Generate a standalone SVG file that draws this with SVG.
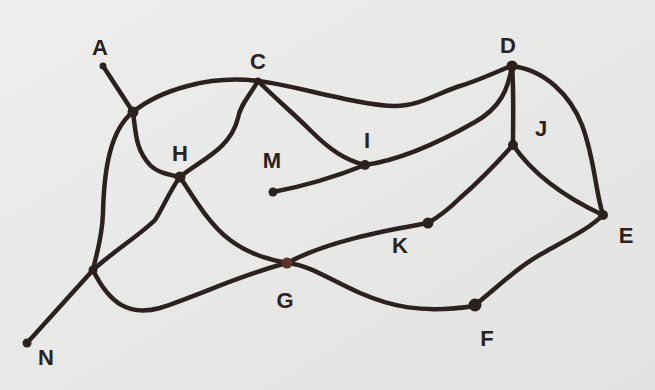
<svg xmlns="http://www.w3.org/2000/svg" width="655" height="390" viewBox="0 0 655 390">
<defs>
<linearGradient id="bg" x1="0" y1="0" x2="1" y2="1">
<stop offset="0" stop-color="#eeeeec"/>
<stop offset="1" stop-color="#e2e2e0"/>
</linearGradient>
<style>
.e{fill:none;stroke:#2b221f;stroke-width:4.5;stroke-linecap:round;stroke-linejoin:round}
.d{fill:#2b221f}
.t{font-family:"Liberation Sans","DejaVu Sans",sans-serif;font-weight:bold;font-size:22px;fill:#2b221f;text-anchor:middle;dominant-baseline:central}
</style>
</defs>
<rect width="655" height="390" fill="url(#bg)"/>
<g id="connectors">
<path class="e" d="M103,66 L133,112"/>
<path class="e" d="M133,112 C160,90 210,75 258,81"/>
<path class="e" d="M258,81 C290,84 360,106 395,106 C420,106 440,92 460,86 C480,80 500,70 512,66"/>
<path class="e" d="M133,112 C110,130 104,170 103,213 C102,240 96,255 93,270"/>
<path class="e" d="M133,112 C136,135 136,150 150,165 C158,173 170,175 180,177"/>
<path class="e" d="M258,81 C250,95 240,105 238,118 C230,150 200,160 180,177"/>
<path class="e" d="M258,81 C275,98 295,115 310,130 C330,150 345,160 365,165"/>
<path class="e" d="M273,192 C310,185 340,175 365,165"/>
<path class="e" d="M365,165 C400,160 440,142 475,122 C500,108 508,90 512,66"/>
<path class="e" d="M512,66 C514,90 513,120 513,145"/>
<path class="e" d="M512,66 C545,70 570,95 582,125 C595,160 595,190 603,215"/>
<path class="e" d="M513,145 C530,170 560,195 603,215"/>
<path class="e" d="M513,145 C495,165 475,185 460,198 C450,208 440,216 428,223"/>
<path class="e" d="M428,223 C390,230 330,240 287,263"/>
<path class="e" d="M287,263 C240,275 200,295 160,308 C130,316 110,305 93,270"/>
<path class="e" d="M180,177 C195,200 210,225 230,240 C250,255 270,260 287,263"/>
<path class="e" d="M287,263 C310,265 330,280 360,293 C390,306 420,314 475,306"/>
<path class="e" d="M475,305 C500,285 520,265 545,252 C570,238 590,228 603,215"/>
<path class="e" d="M180,177 C170,190 162,210 155,220 C140,235 115,250 93,270"/>
<path class="e" d="M93,270 L27,343"/>
</g>
<g id="node-A"><circle class="d" cx="103" cy="66" r="3.5"/><text class="t" x="100" y="47">A</text></g>
<g id="node-P"><circle class="d" cx="133" cy="112" r="5.5"/></g>
<g id="node-C"><circle class="d" cx="258" cy="81" r="3.5"/><text class="t" x="258" y="61">C</text></g>
<g id="node-D"><circle class="d" cx="512" cy="66" r="5.5"/><text class="t" x="508" y="45">D</text></g>
<g id="node-I"><circle class="d" cx="365" cy="165" r="5"/><text class="t" x="367" y="140">I</text></g>
<g id="node-M"><circle class="d" cx="273" cy="192" r="4.5"/><text class="t" x="272" y="160">M</text></g>
<g id="node-H"><circle class="d" cx="180" cy="177" r="5.5"/><text class="t" x="180" y="153">H</text></g>
<g id="node-J"><circle class="d" cx="513" cy="145" r="5"/><text class="t" x="541" y="128">J</text></g>
<g id="node-E"><circle class="d" cx="603" cy="215" r="5"/><text class="t" x="626" y="235">E</text></g>
<g id="node-K"><circle class="d" cx="428" cy="223" r="5.5"/><text class="t" x="400" y="245">K</text></g>
<g id="node-G"><circle cx="287" cy="263" r="5.5" fill="#5a3528"/><text class="t" x="285" y="300" font-size="24">G</text></g>
<g id="node-F"><circle class="d" cx="475" cy="305" r="6.5"/><text class="t" x="487" y="338" font-size="25">F</text></g>
<g id="node-N"><circle class="d" cx="27" cy="343" r="4.5"/><text class="t" x="46" y="357" font-size="28">N</text></g>
<g id="node-Q"><circle class="d" cx="93" cy="270" r="4.5"/></g>
</svg>
